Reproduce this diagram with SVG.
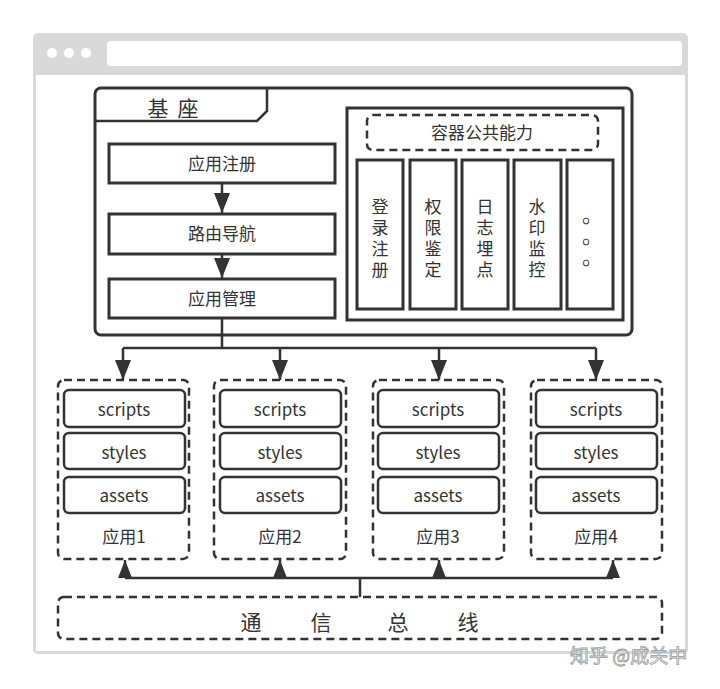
<svg xmlns="http://www.w3.org/2000/svg" width="720" height="689" viewBox="0 0 720 689">
<defs>
<style>
.t{font-family:"Noto Sans CJK SC","Noto Sans",sans-serif;fill:#333;text-anchor:middle}
.v{font-family:"Noto Sans CJK SC","Noto Sans",sans-serif;fill:#333;font-size:17px;writing-mode:vertical-rl;letter-spacing:4px;text-anchor:start}
.dot{font-family:"Noto Sans CJK SC",sans-serif;fill:none;stroke:#333;stroke-width:0.7;font-size:6px;text-anchor:middle}
.box{fill:#fff;stroke:#333;stroke-width:3}
.ibox{fill:#fff;stroke:#333;stroke-width:2.5}
.dash{fill:none;stroke:#333;stroke-width:2.5;stroke-dasharray:8 5}
.ln{fill:none;stroke:#333;stroke-width:2.5}
</style>
<marker id="ah" viewBox="0 0 20 16" refX="20" refY="8" markerWidth="20" markerHeight="16" markerUnits="userSpaceOnUse" orient="auto">
<path d="M0,0 L20,8 L0,16 Z" fill="#333"/>
</marker>
<marker id="ahs" viewBox="0 0 18 14" refX="18" refY="7" markerWidth="18" markerHeight="14" markerUnits="userSpaceOnUse" orient="auto">
<path d="M0,0 L18,7 L0,14 Z" fill="#333"/>
</marker>
</defs>

<g id="browser">
<rect x="33" y="33" width="655" height="621" rx="5" fill="#d9d9d9"/>
<rect x="36" y="75" width="649" height="576" fill="#fff"/>
<rect x="107" y="41" width="575" height="25" rx="4" fill="#fff"/>
<circle cx="52" cy="53" r="5" fill="#fff"/>
<circle cx="69" cy="53" r="5" fill="#fff"/>
<circle cx="86" cy="53" r="5" fill="#fff"/>
</g>

<g id="base">
<rect class="box" x="95" y="88" width="537" height="247" rx="6"/>
<path class="ln" d="M95,121 H257 L267,111 V88" stroke-width="3"/>
<text class="t" x="158" y="116" font-size="21">基</text>
<text class="t" x="188" y="116" font-size="21">座</text>
</g>

<g id="reg">
<rect class="box" x="109" y="144" width="226" height="39"/>
<text class="t" x="222" y="170" font-size="17">应用注册</text>
</g>
<g id="nav">
<rect class="box" x="109" y="214" width="226" height="40"/>
<text class="t" x="222" y="240" font-size="17">路由导航</text>
</g>
<g id="mgr">
<rect class="box" x="109" y="279" width="226" height="39"/>
<text class="t" x="222" y="305" font-size="17">应用管理</text>
</g>

<g id="container">
<rect class="box" x="347" y="108" width="276" height="212"/>
<rect class="dash" x="367" y="115" width="231" height="35" rx="6"/>
<text class="t" x="482" y="139" font-size="17">容器公共能力</text>
</g>
<g id="login">
<rect class="box" x="357" y="160" width="46" height="149"/>
<text class="v" x="380" y="198">登录注册</text>
</g>
<g id="auth">
<rect class="box" x="410" y="160" width="46" height="149"/>
<text class="v" x="433" y="198">权限鉴定</text>
</g>
<g id="log">
<rect class="box" x="462" y="160" width="46" height="149"/>
<text class="v" x="485" y="198">日志埋点</text>
</g>
<g id="mark">
<rect class="box" x="514" y="160" width="47" height="149"/>
<text class="v" x="537" y="198">水印监控</text>
</g>
<g id="more">
<rect class="box" x="567" y="160" width="46" height="149"/>
<text class="dot" x="586" y="223">○</text>
<text class="dot" x="586" y="244">○</text>
<text class="dot" x="586" y="265">○</text>
</g>

<g id="app1">
<rect class="dash" x="58" y="380" width="131" height="179" rx="6"/>
<rect class="ibox" x="64" y="390" width="121" height="37" rx="5"/>
<text class="t" x="124" y="416" font-size="17">scripts</text>
<rect class="ibox" x="64" y="433" width="121" height="36" rx="5"/>
<text class="t" x="124" y="459" font-size="17">styles</text>
<rect class="ibox" x="64" y="477" width="121" height="36" rx="5"/>
<text class="t" x="124" y="502" font-size="17">assets</text>
<text class="t" x="124" y="543" font-size="17">应用1</text>
</g>
<g id="app2">
<rect class="dash" x="214" y="380" width="132" height="179" rx="6"/>
<rect class="ibox" x="220" y="390" width="121" height="37" rx="5"/>
<text class="t" x="280" y="416" font-size="17">scripts</text>
<rect class="ibox" x="220" y="433" width="121" height="36" rx="5"/>
<text class="t" x="280" y="459" font-size="17">styles</text>
<rect class="ibox" x="220" y="477" width="121" height="36" rx="5"/>
<text class="t" x="280" y="502" font-size="17">assets</text>
<text class="t" x="280" y="543" font-size="17">应用2</text>
</g>
<g id="app3">
<rect class="dash" x="373" y="380" width="131" height="179" rx="6"/>
<rect class="ibox" x="378" y="390" width="121" height="37" rx="5"/>
<text class="t" x="438" y="416" font-size="17">scripts</text>
<rect class="ibox" x="378" y="433" width="121" height="36" rx="5"/>
<text class="t" x="438" y="459" font-size="17">styles</text>
<rect class="ibox" x="378" y="477" width="121" height="36" rx="5"/>
<text class="t" x="438" y="502" font-size="17">assets</text>
<text class="t" x="438" y="543" font-size="17">应用3</text>
</g>
<g id="app4">
<rect class="dash" x="531" y="380" width="131" height="179" rx="6"/>
<rect class="ibox" x="536" y="390" width="121" height="37" rx="5"/>
<text class="t" x="596" y="416" font-size="17">scripts</text>
<rect class="ibox" x="536" y="433" width="121" height="36" rx="5"/>
<text class="t" x="596" y="459" font-size="17">styles</text>
<rect class="ibox" x="536" y="477" width="121" height="36" rx="5"/>
<text class="t" x="596" y="502" font-size="17">assets</text>
<text class="t" x="596" y="543" font-size="17">应用4</text>
</g>

<g id="bus">
<rect class="dash" x="58" y="597" width="604" height="42" rx="6"/>
<text class="t" x="251" y="630" font-size="21">通</text>
<text class="t" x="321" y="630" font-size="21">信</text>
<text class="t" x="398" y="630" font-size="21">总</text>
<text class="t" x="468" y="630" font-size="21">线</text>
</g>

<g id="connectors">
<line class="ln" x1="222" y1="183" x2="222" y2="213" marker-end="url(#ah)"/>
<line class="ln" x1="222" y1="254" x2="222" y2="278" marker-end="url(#ah)"/>
<path class="ln" d="M222,318 V348 M123,348 H596"/>
<line class="ln" x1="123" y1="348" x2="123" y2="380" marker-end="url(#ah)"/>
<line class="ln" x1="280" y1="348" x2="280" y2="380" marker-end="url(#ah)"/>
<line class="ln" x1="439" y1="348" x2="439" y2="380" marker-end="url(#ah)"/>
<line class="ln" x1="596" y1="348" x2="596" y2="380" marker-end="url(#ah)"/>
<path class="ln" d="M125,578 H613 M360,578 V597"/>
<line class="ln" x1="125" y1="578" x2="125" y2="560" marker-end="url(#ahs)"/>
<line class="ln" x1="280" y1="578" x2="280" y2="560" marker-end="url(#ahs)"/>
<line class="ln" x1="439" y1="578" x2="439" y2="560" marker-end="url(#ahs)"/>
<line class="ln" x1="613" y1="578" x2="613" y2="560" marker-end="url(#ahs)"/>
</g>

<g id="watermark">
<text x="570" y="663" font-size="19" style="font-family:'Noto Sans CJK SC',sans-serif;fill:#fff;stroke:#999;stroke-width:0.8">知乎 @成关中</text>
</g>
</svg>
